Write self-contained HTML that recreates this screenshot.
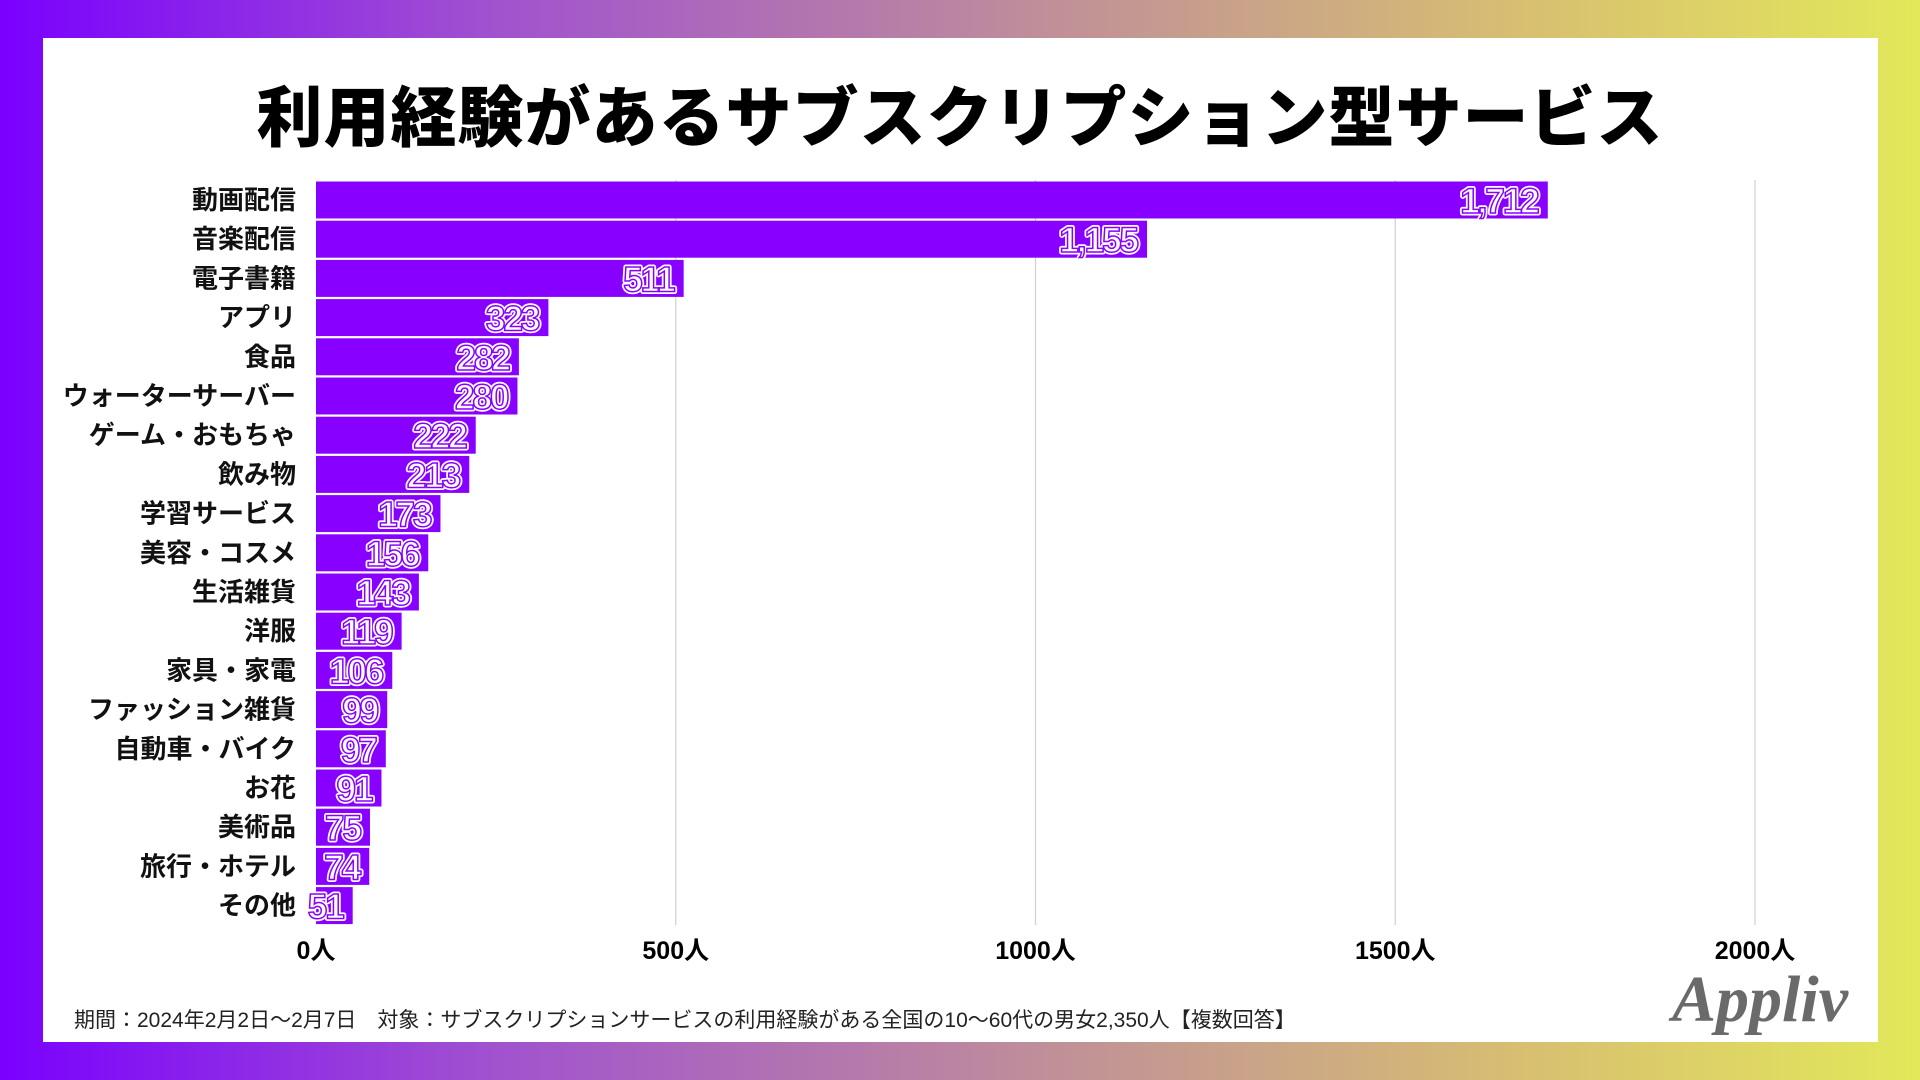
<!DOCTYPE html>
<html><head><meta charset="utf-8">
<style>
body{margin:0;width:1920px;height:1080px;overflow:hidden;background:linear-gradient(90deg,#7a00ff 0%,#a050d0 25%,#c09098 55%,#d8c070 80%,#e2e85a 100%);font-family:"Liberation Sans","Noto Sans CJK JP",sans-serif;}
#panel{position:absolute;left:43px;top:38px;width:1835px;height:1004px;background:#fff;}
#title{position:absolute;left:0;top:65px;width:1920px;text-align:center;font-size:66px;font-weight:900;color:#000;letter-spacing:1px;}
#foot{position:absolute;left:74px;top:1004px;font-size:21px;color:#222;}
#logo{position:absolute;left:1672px;top:962px;font-family:"Liberation Serif",serif;font-style:italic;font-weight:bold;font-size:66px;color:#6a6a6a;}
</style></head><body>
<div id="panel"></div>
<div id="title">利用経験があるサブスクリプション型サービス</div>
<svg id="chart" width="1920" height="1080" style="position:absolute;left:0;top:0"></svg>
<div id="foot">期間：2024年2月2日〜2月7日　対象：サブスクリプションサービスの利用経験がある全国の10〜60代の男女2,350人【複数回答】</div>
<div id="logo">Appliv</div>
<script>
const categories=["動画配信","音楽配信","電子書籍","アプリ","食品","ウォーターサーバー","ゲーム・おもちゃ","飲み物","学習サービス","美容・コスメ","生活雑貨","洋服","家具・家電","ファッション雑貨","自動車・バイク","お花","美術品","旅行・ホテル","その他"];
const values=[1712,1155,511,323,282,280,222,213,173,156,143,119,106,99,97,91,75,74,51];
const ticks=[0,500,1000,1500,2000];
const tickLabels=["0人","500人","1000人","1500人","2000人"];
const NS="http://www.w3.org/2000/svg";
const svg=document.getElementById('chart');
const x0=316,x1=1755,maxV=2000,y0=200,step=39.2,bh=37;
const xs=v=>x0+(v/maxV)*(x1-x0);
const ys=i=>y0+i*step;
function mk(t,a){const e=document.createElementNS(NS,t);for(const k in a)e.setAttribute(k,a[k]);svg.appendChild(e);return e;}
ticks.forEach((t,i)=>{
  if(i>0){const l=mk('line',{x1:xs(t),x2:xs(t),y1:180,y2:925,stroke:'#d0d0d0','stroke-width':1.2});
  
  }
  const tx=mk('text',{x:xs(t),y:959,'text-anchor':'middle','font-size':25,'font-weight':'bold',fill:'#000'});
  tx.textContent=tickLabels[i];
  
  
});
categories.forEach((c,i)=>{
  const y=ys(i);
  const r=mk('rect',{x:x0,y:y-bh/2,width:xs(values[i])-x0,height:bh,fill:'#8800ff'});
  
  
  const lb=mk('text',{x:296,y:y+9,'text-anchor':'end','font-size':26,'font-weight':'bold',fill:'#111'});
  lb.textContent=c;
  
  
  const a={x:xs(values[i])-10,y:y+13,'text-anchor':'end','font-size':35,'font-weight':'bold','letter-spacing':'-2'};
  const v=mk('text',Object.assign({fill:'#fff',stroke:'#fff','stroke-width':5,'stroke-linejoin':'round'},a));
  v.textContent=values[i].toLocaleString('en-US');
  
  
  const v2=mk('text',Object.assign({fill:'#fff',stroke:'#8800ff','stroke-width':1.5},a));
  v2.textContent=values[i].toLocaleString('en-US');
  
  
});
</script>
</body></html>
